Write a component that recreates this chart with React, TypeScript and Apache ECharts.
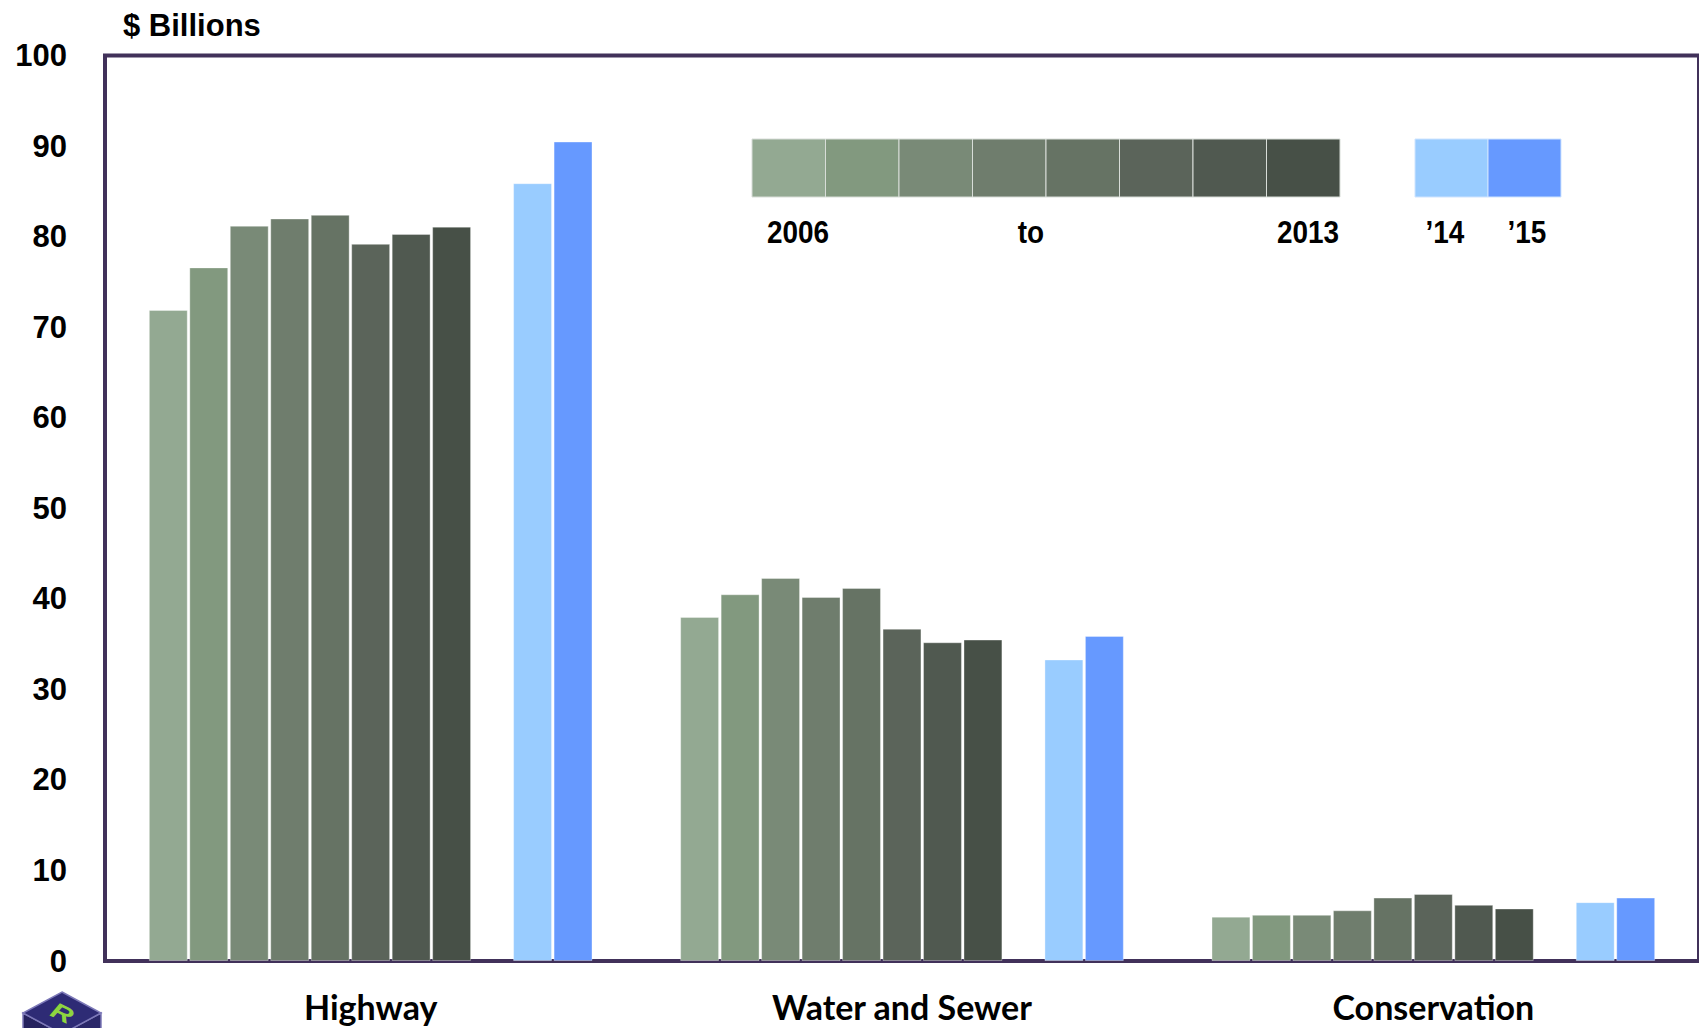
import React, { useEffect, useRef } from "react";
import * as echarts from "echarts";

const categories = ["Highway", "Water and Sewer", "Conservation"];
const years = ["2006", "2007", "2008", "2009", "2010", "2011", "2012", "2013", "2014", "2015"];
const v2006 = [71.9, 38.0, 4.9];
const v2007 = [76.6, 40.5, 5.1];
const v2008 = [81.2, 42.3, 5.1];
const v2009 = [82.0, 40.2, 5.6];
const v2010 = [82.4, 41.2, 7.0];
const v2011 = [79.2, 36.7, 7.4];
const v2012 = [80.3, 35.2, 6.2];
const v2013 = [81.1, 35.5, 5.8];
const v2014 = [85.9, 33.3, 6.5];
const v2015 = [90.5, 35.9, 7.0];
const seriesValues = [v2006, v2007, v2008, v2009, v2010, v2011, v2012, v2013, v2014, v2015];
const colors = [
  "#93A992", "#82997F", "#798A77", "#6F7D6D", "#667364",
  "#5B645A", "#505950", "#475047", "#99CCFF", "#6699FF",
];
const yTicks = [0, 100, 10];
const legendLabels = ["2006", "to", "2013", "\u201914", "\u201915"];

export default function App() {
  const ref = useRef<HTMLDivElement>(null);
  useEffect(() => {
    if (!ref.current) return;
    const chart = echarts.init(ref.current, undefined, { renderer: "svg" });

    const series: any[] = [];
    seriesValues.forEach((vals, i) => {
      if (i === 8) {
        series.push({ type: "bar", name: "gap", data: categories.map(() => "-"), silent: true });
      }
      series.push({
        type: "bar",
        name: years[i],
        data: vals,
        itemStyle: { color: colors[i], borderColor: "rgba(255,255,255,0.35)", borderWidth: 1 },
        barGap: "4%",
        barCategoryGap: "16.5%",
      });
    });

    const graphics: any[] = [];
    // legend swatches
    const gx = 752, gw = 73.5, gy = 139, gh = 58;
    for (let i = 0; i < 8; i++) {
      graphics.push({
        type: "rect",
        shape: { x: gx + i * gw, y: gy, width: gw, height: gh },
        style: { fill: colors[i], stroke: "#d8ddd8", lineWidth: 1 },
      });
    }
    for (let i = 0; i < 2; i++) {
      graphics.push({
        type: "rect",
        shape: { x: 1415 + i * 73, y: gy, width: 73, height: gh },
        style: { fill: colors[8 + i], stroke: "#cfe4ff", lineWidth: 1 },
      });
    }
    const lx = [798, 1031, 1308, 1445, 1527];
    legendLabels.forEach((t, i) => {
      graphics.push({
        type: "text",
        x: lx[i],
        y: 232,
        scaleX: 0.9,
        originX: 0,
        originY: 0,
        style: {
          text: t,
          fill: "#000",
          font: "bold 31px 'Liberation Sans', Arial, sans-serif",
          textAlign: "center",
          textVerticalAlign: "middle",
        },
      });
    });
    graphics.push({
      type: "text",
      x: 123,
      y: 25,
      style: {
        text: "$ Billions",
        fill: "#000",
        font: "bold 31px 'Liberation Sans', Arial, sans-serif",
        textAlign: "left",
        textVerticalAlign: "middle",
      },
    });
    // logo cube
    graphics.push({
      type: "polygon",
      shape: { points: [[23, 1013], [62, 1034], [62, 1062], [23, 1041]] },
      style: { fill: "#25225E", stroke: "#7D79B8", lineWidth: 1.5 },
    });
    graphics.push({
      type: "polygon",
      shape: { points: [[101, 1013], [62, 1034], [62, 1062], [101, 1041]] },
      style: { fill: "#2A2769", stroke: "#7D79B8", lineWidth: 1.5 },
    });
    graphics.push({
      type: "polygon",
      shape: { points: [[62, 992], [101, 1013], [62, 1034], [23, 1013]] },
      style: { fill: "#2E2B75", stroke: "#7D79B8", lineWidth: 1.5 },
    });
    graphics.push({
      type: "text",
      x: 62,
      y: 1013,
      rotation: -0.45,
      originX: 0,
      originY: 0,
      scaleY: 0.75,
      style: {
        text: "R",
        fill: "#8ED53F",
        font: "italic bold 30px 'Liberation Sans', Arial, sans-serif",
        textAlign: "center",
        textVerticalAlign: "middle",
      },
    });

    chart.setOption({
      animation: false,
      backgroundColor: "#ffffff",
      grid: {
        left: 105,
        top: 55.5,
        width: 1606,
        height: 905.5,
        show: true,
        borderColor: "#41315A",
        borderWidth: 4,
        backgroundColor: "transparent",
        containLabel: false,
      },
      xAxis: {
        type: "category",
        data: categories,
        axisLine: { show: false },
        axisTick: { show: false },
        axisLabel: {
          margin: 28,
          color: "#000",
          fontFamily: "Lato, 'Open Sans', sans-serif",
          fontWeight: "bold",
          fontSize: 34,
        },
      },
      yAxis: {
        type: "value",
        min: yTicks[0],
        max: yTicks[1],
        interval: yTicks[2],
        axisLine: { show: false },
        axisTick: { show: false },
        splitLine: { show: false },
        axisLabel: {
          margin: 38,
          color: "#000",
          fontFamily: "'Liberation Sans', Arial, sans-serif",
          fontWeight: "bold",
          fontSize: 31,
        },
      },
      series,
      graphic: graphics,
    });
    return () => chart.dispose();
  }, []);
  return (
    <div
      ref={ref}
      style={{ position: "fixed", left: 0, top: 0, width: 1699, height: 1028, background: "#fff" }}
    />
  );
}
